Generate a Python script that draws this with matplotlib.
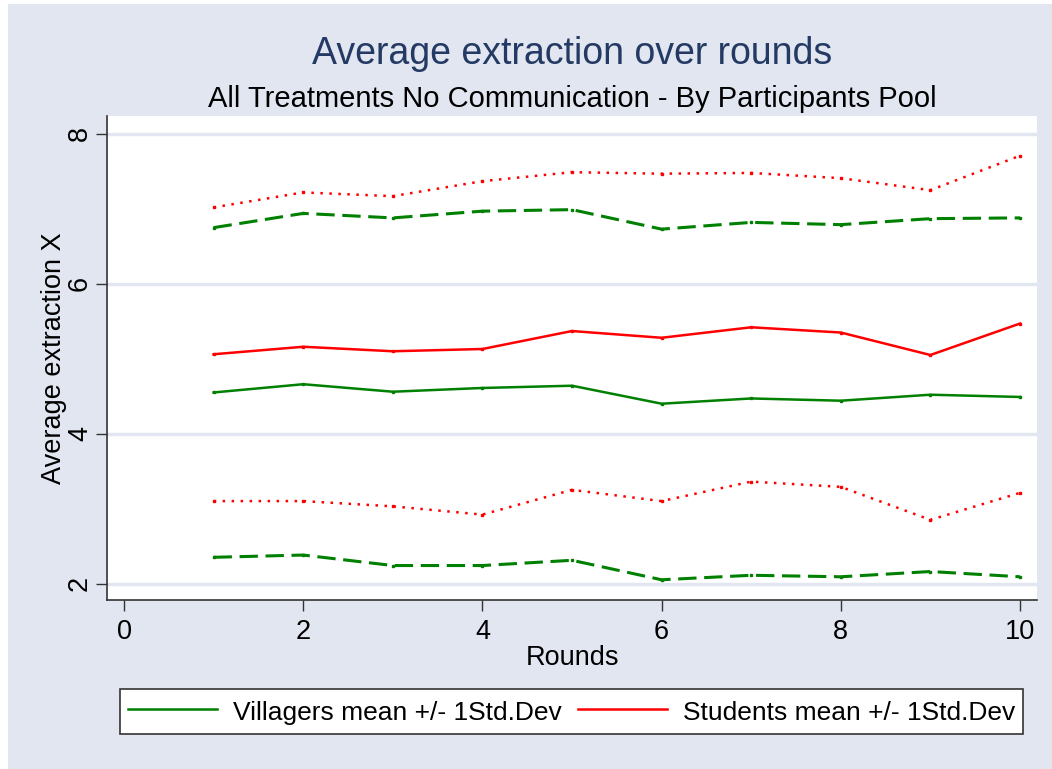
import matplotlib.pyplot as plt
from matplotlib.patches import Rectangle

plt.rcParams['font.family'] = ['Liberation Sans', 'DejaVu Sans']

rounds = [1, 2, 3, 4, 5, 6, 7, 8, 9, 10]

vill_mean = [4.55, 4.66, 4.56, 4.61, 4.64, 4.40, 4.47, 4.44, 4.52, 4.49]
vill_hi = [6.75, 6.94, 6.88, 6.97, 6.99, 6.73, 6.82, 6.79, 6.87, 6.88]
vill_lo = [2.35, 2.38, 2.24, 2.24, 2.31, 2.05, 2.11, 2.09, 2.16, 2.09]

stud_mean = [5.06, 5.16, 5.10, 5.13, 5.37, 5.28, 5.42, 5.35, 5.05, 5.47]
stud_hi = [7.02, 7.22, 7.17, 7.37, 7.49, 7.47, 7.48, 7.41, 7.25, 7.71]
stud_lo = [3.10, 3.10, 3.03, 2.92, 3.25, 3.10, 3.36, 3.29, 2.85, 3.21]

bg = '#e1e6f0'
green = '#008000'
red = '#ff0000'
dark = '#333333'
fs = 19.5

fig = plt.figure(figsize=(10.52, 7.69), dpi=100, facecolor='white')
fig.patches.append(Rectangle((8/1052, 0), 1, 765/769, transform=fig.transFigure,
                             facecolor=bg, edgecolor='none', zorder=-10))

ax = fig.add_axes([107/1052, 169/769, 930/1052, 484/769])
ax.set_facecolor('white')

# means solid, +/- 1 sd dashed (villagers) and dotted (students)
ax.plot(rounds, vill_mean, color=green, lw=1.8, marker='s', ms=2,
        label='Villagers mean +/- 1Std.Dev')
ax.plot(rounds, vill_hi, color=green, lw=2.2, ls=(0, (6, 2.5)), marker='s', ms=2)
ax.plot(rounds, vill_lo, color=green, lw=2.2, ls=(0, (6, 2.5)), marker='s', ms=2)

ax.plot(rounds, stud_mean, color=red, lw=1.8, marker='s', ms=2,
        label='Students mean +/- 1Std.Dev')
ax.plot(rounds, stud_hi, color=red, lw=1.8, ls=(0, (1, 2.6)), marker='s', ms=1.8)
ax.plot(rounds, stud_lo, color=red, lw=1.8, ls=(0, (1, 2.6)), marker='s', ms=1.8)

ax.set_xlim(-0.19, 10.19)
ax.set_ylim(1.78, 8.24)
ax.set_xticks([0, 2, 4, 6, 8, 10])
ax.set_yticks([2, 4, 6, 8])
ax.grid(axis='y', color=bg, lw=2.5)
ax.set_axisbelow(True)

for s in ['top', 'right']:
    ax.spines[s].set_visible(False)
for s in ['left', 'bottom']:
    ax.spines[s].set_color(dark)
    ax.spines[s].set_linewidth(1.2)

ax.tick_params(axis='both', direction='out', length=8, width=1, color=dark,
               labelsize=fs)
ax.tick_params(axis='x', pad=6)
ax.tick_params(axis='y', pad=2)
for lab in ax.get_yticklabels():
    lab.set_rotation(90)
    lab.set_va('center')

ax.set_xlabel('Rounds', fontsize=fs, labelpad=0)
ax.set_ylabel('Average extraction X', fontsize=fs, labelpad=0)

fig.text(572/1052, 1 - 54/769, 'Average extraction over rounds', ha='center',
         va='center', fontsize=27, color='#243a64')
fig.text(572/1052, 1 - 99/769, 'All Treatments No Communication - By Participants Pool',
         ha='center', va='center', fontsize=21, color='black')

leg = fig.legend(loc='center', bbox_to_anchor=(571.5/1052, 1 - 711.5/769), ncol=2,
                 fontsize=19, frameon=True, fancybox=False, edgecolor=dark,
                 framealpha=1, handlelength=3.4, handleheight=1.3,
                 handletextpad=0.6, columnspacing=0.6, borderpad=0.3)
leg.get_frame().set_linewidth(1.2)
for h in leg.get_lines():
    h.set_marker('')

fig.savefig('out.png', dpi=100, facecolor=fig.get_facecolor())
